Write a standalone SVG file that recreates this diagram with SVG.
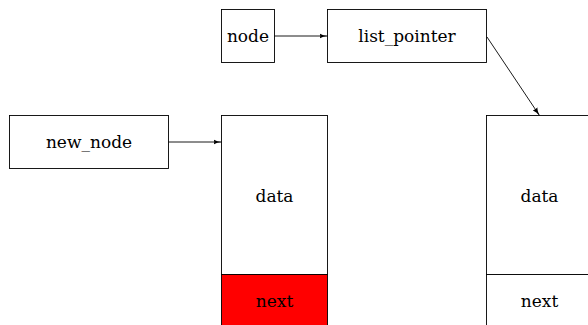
<svg xmlns="http://www.w3.org/2000/svg" width="588" height="325" viewBox="0 0 588 325">
<style>
.box{fill:#fff;stroke:#000;stroke-width:0.9}
.red{fill:#ff0000;stroke:#000;stroke-width:0.9}
.lbl{font-family:"DejaVu Serif","Liberation Serif",serif;font-size:17px;fill:#000;text-anchor:middle}
.conn{stroke:#000;stroke-width:0.9;fill:none;marker-end:url(#arr)}
</style>
<defs>
<marker id="arr" viewBox="0 0 8 6" refX="8" refY="3" markerWidth="8" markerHeight="6" markerUnits="userSpaceOnUse" orient="auto">
<path d="M0,0.3 Q3,2.4 8,3 Q3,3.6 0,5.7 Q1.5,3 0,0.3 Z" fill="#000"/>
</marker>
</defs>
<rect width="588" height="325" fill="#fff"/>
<g id="node">
<rect class="box" x="221.5" y="9.5" width="53" height="53"/>
<text class="lbl" x="248" y="42">node</text>
</g>
<g id="list_pointer">
<rect class="box" x="327.5" y="9.5" width="159" height="53"/>
<text class="lbl" x="407" y="42">list_pointer</text>
</g>
<g id="new_node">
<rect class="box" x="9.5" y="115.5" width="159" height="53"/>
<text class="lbl" x="89" y="148">new_node</text>
</g>
<g id="new_struct">
<rect class="box" x="221.5" y="115.5" width="106" height="159"/>
<rect class="red" x="221.5" y="274.5" width="106" height="60"/>
<text class="lbl" x="274.5" y="202">data</text>
<text class="lbl" x="274.5" y="307">next</text>
</g>
<g id="list_struct">
<rect class="box" x="486.5" y="115.5" width="106" height="159"/>
<rect class="box" x="486.5" y="274.5" width="106" height="60"/>
<text class="lbl" x="539.5" y="202">data</text>
<text class="lbl" x="539.5" y="307">next</text>
</g>
<g id="connectors">
<line class="conn" x1="274.5" y1="36" x2="327.5" y2="36"/>
<line class="conn" x1="168.5" y1="142" x2="221.5" y2="142"/>
<line class="conn" x1="487" y1="37" x2="539.5" y2="115.5"/>
</g>
</svg>
